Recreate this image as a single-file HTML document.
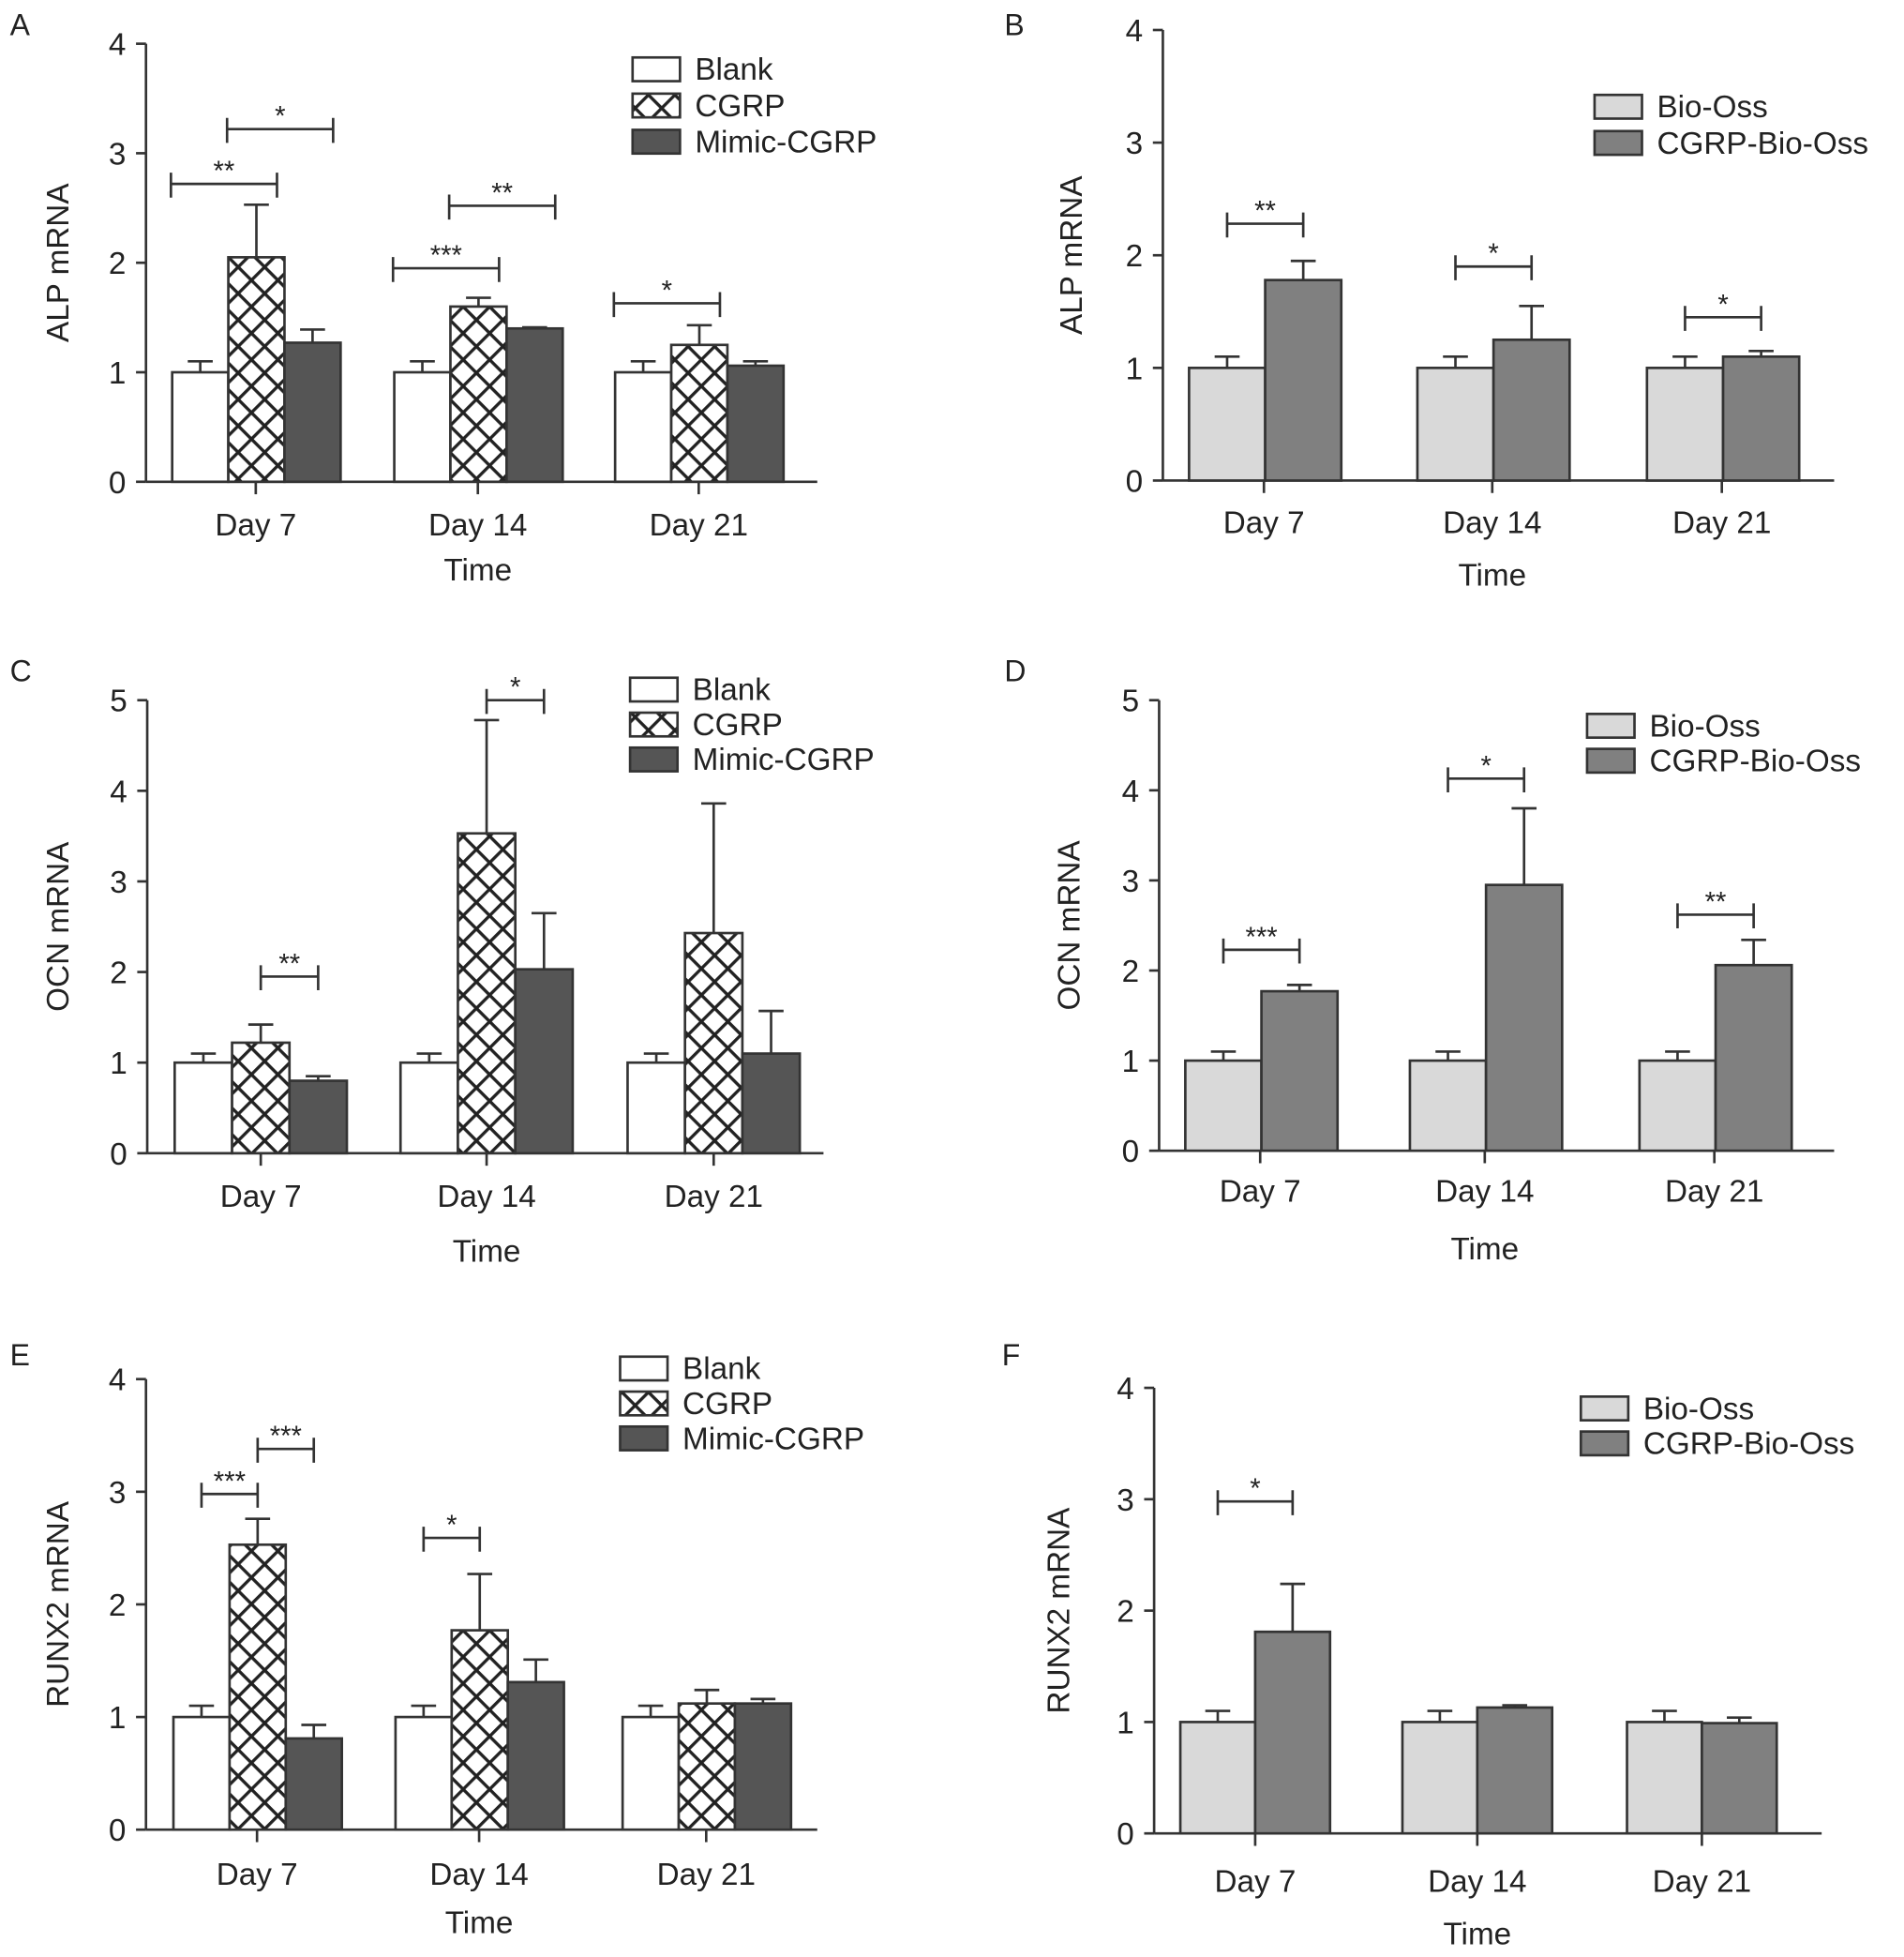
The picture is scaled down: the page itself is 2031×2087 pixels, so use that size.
<!DOCTYPE html>
<html><head><meta charset="utf-8"><style>
html,body{margin:0;padding:0;background:#fff;}
svg{display:block;}
text{font-family:"Liberation Sans",Arial,sans-serif;fill:#222;}
</style></head><body>
<svg id="fig" width="2031" height="2087" viewBox="0 0 1526 1568" xmlns="http://www.w3.org/2000/svg">
<defs>
<pattern id="hatch" patternUnits="userSpaceOnUse" width="15" height="15" patternTransform="rotate(45)">
<rect width="15" height="15" fill="#fff"/>
<line x1="0" y1="0" x2="0" y2="15" stroke="#222" stroke-width="5"/>
<line x1="0" y1="0" x2="15" y2="0" stroke="#222" stroke-width="5"/>
</pattern>
</defs>
</svg>
<script>
const categories = ["Day 7","Day 14","Day 21"];
// Panel A (ALP, 3 groups)
const aBlank=[1,1,1], aBlankErr=[0.1,0.1,0.1];
const aCgrp=[2.05,1.6,1.25], aCgrpErr=[0.48,0.08,0.18];
const aMimic=[1.27,1.4,1.06], aMimicErr=[0.12,0.01,0.04];
const aSig=[[0,0,1,2.72,"**"],[0,1,2,3.22,"*"],[1,0,1,1.95,"***"],[1,1,2,2.52,"**"],[2,0,1,1.63,"*"]];
// Panel B (ALP, 2 groups)
const bBio=[1,1,1], bBioErr=[0.1,0.1,0.1];
const bCgrp=[1.78,1.25,1.1], bCgrpErr=[0.17,0.3,0.05];
const bSig=[[0,0,1,2.28,"**"],[1,0,1,1.9,"*"],[2,0,1,1.45,"*"]];
// Panel C (OCN, 3 groups)
const cBlank=[1,1,1], cBlankErr=[0.1,0.1,0.1];
const cCgrp=[1.22,3.53,2.43], cCgrpErr=[0.2,1.25,1.43];
const cMimic=[0.8,2.03,1.1], cMimicErr=[0.05,0.62,0.47];
const cSig=[[0,1,2,1.95,"**"],[1,1,2,5.0,"*"]];
// Panel D (OCN, 2 groups)
const dBio=[1,1,1], dBioErr=[0.1,0.1,0.1];
const dCgrp=[1.77,2.95,2.06], dCgrpErr=[0.07,0.85,0.28];
const dSig=[[0,0,1,2.23,"***"],[1,0,1,4.13,"*"],[2,0,1,2.62,"**"]];
// Panel E (RUNX2, 3 groups)
const eBlank=[1,1,1], eBlankErr=[0.1,0.1,0.1];
const eCgrp=[2.53,1.77,1.12], eCgrpErr=[0.23,0.5,0.12];
const eMimic=[0.81,1.31,1.12], eMimicErr=[0.12,0.2,0.04];
const eSig=[[0,0,1,2.98,"***"],[0,1,2,3.38,"***"],[1,0,1,2.59,"*"]];
// Panel F (RUNX2, 2 groups)
const fBio=[1,1,1], fBioErr=[0.1,0.1,0.1];
const fCgrp=[1.81,1.13,0.99], fCgrpErr=[0.43,0.02,0.05];
const fSig=[[0,0,1,2.98,"*"]];
const ticks4=[0,1,2,3,4], ticks5=[0,1,2,3,4,5];
const legend3=["Blank","CGRP","Mimic-CGRP"], legend2=["Bio-Oss","CGRP-Bio-Oss"];

const svg=document.getElementById('fig');
const NS="http://www.w3.org/2000/svg";
function mk(tag,attrs,parent,txt){const e=document.createElementNS(NS,tag);for(const k in attrs)e.setAttribute(k,attrs[k]);if(txt!==undefined)e.textContent=txt;(parent||svg).appendChild(e);return e;}

function panel(p){
  const g=mk('g',{});
  
  
  const yS=v=>p.y0-(p.y0-p.yTop)*v/p.ymax;
  const letter=mk('text',{x:p.lx,y:p.ly,'font-size':24},g,p.id);
  
  
  const ya=mk('line',{x1:p.ax,y1:p.yTop,x2:p.ax,y2:p.y0,stroke:'#333','stroke-width':2},g);
  
  
  const xa=mk('line',{x1:p.ax,y1:p.y0,x2:p.axEnd,y2:p.y0,stroke:'#333','stroke-width':2},g);
  
  
  p.ticks.forEach(t=>{
    mk('line',{x1:p.ax-8,y1:yS(t),x2:p.ax,y2:yS(t),stroke:'#333','stroke-width':2},g);
    const tl=mk('text',{x:p.ax-16,y:yS(t)+9,'font-size':25,'text-anchor':'end'},g,String(t));
    
    
  });
  const yt=mk('text',{x:0,y:0,'font-size':25,'text-anchor':'middle',transform:`translate(${p.ytx},${(p.yTop+p.y0)/2}) rotate(-90)`},g,p.ytitle);
  
  
  categories.forEach((c,i)=>{
    const cx=p.centers[i];
    mk('line',{x1:cx,y1:p.y0,x2:cx,y2:p.y0+10,stroke:'#333','stroke-width':2},g);
    const cl=mk('text',{x:cx,y:p.catY,'font-size':25,'text-anchor':'middle'},g,c);
    
    
  });
  const xt=mk('text',{x:p.centers[1],y:p.timeY,'font-size':25,'text-anchor':'middle'},g,'Time');
  
  
  const barX=(i,s)=>p.centers[i]+p.offset+s*p.bw;
  p.series.forEach((s,si)=>{
    s.vals.forEach((v,i)=>{
      const x=barX(i,si), top=yS(v), cx=x+p.bw/2, et=yS(v+s.err[i]);
      mk('line',{x1:cx,y1:top,x2:cx,y2:et,stroke:'#333','stroke-width':2},g);
      mk('line',{x1:cx-10,y1:et,x2:cx+10,y2:et,stroke:'#333','stroke-width':2},g);
      const r=mk('rect',{x:x,y:top,width:p.bw,height:p.y0-top,fill:s.fill,stroke:'#333','stroke-width':2},g);
      
      
    });
  });
  p.sig.forEach(sg=>{
    const [gi,a,b,v,lab]=sg;
    let x1,x2;
    if(p.edge){x1=barX(gi,a)-1;x2=barX(gi,b)+p.bw-6;}
    else{x1=barX(gi,a)+p.bw/2;x2=barX(gi,b)+p.bw/2;}
    const y=yS(v);
    mk('path',{d:`M${x1},${y+11}V${y-9}M${x1},${y}H${x2}M${x2},${y+11}V${y-9}`,stroke:'#333','stroke-width':2,fill:'none'},g);
    const st=mk('text',{x:(x1+x2)/2,y:y-3,'font-size':22,'text-anchor':'middle'},g,lab);
    
    
  });
  p.series.forEach((s,si)=>{
    const ry=p.legY+si*p.legDy;
    mk('rect',{x:p.legX,y:ry-9,width:38,height:19,fill:s.fill,stroke:'#333','stroke-width':2},g);
    const lt=mk('text',{x:p.legX+50,y:ry+9,'font-size':25},g,s.label);
    
    
  });
}
function three(b,be,c,ce,m,me){return [
  {name:'blank',label:legend3[0],vals:b,err:be,fill:'#fff'},
  {name:'cgrp',label:legend3[1],vals:c,err:ce,fill:'url(#hatch)'},
  {name:'mimic',label:legend3[2],vals:m,err:me,fill:'#555'}];}
function two(b,be,c,ce){return [
  {name:'bio-oss',label:legend2[0],vals:b,err:be,fill:'#d9d9d9'},
  {name:'cgrp-bio-oss',label:legend2[1],vals:c,err:ce,fill:'#808080'}];}

panel({id:'A',lx:8,ly:28,ax:117,axEnd:655,y0:386,yTop:35,ymax:4,ticks:ticks4,ytx:55,ytitle:'ALP mRNA',
  centers:[205,383,560],offset:-67,bw:45,catY:429,timeY:465,series:three(aBlank,aBlankErr,aCgrp,aCgrpErr,aMimic,aMimicErr),
  sig:aSig,edge:true,legX:507,legY:55,legDy:29});
panel({id:'B',lx:805,ly:28,ax:932,axEnd:1470,y0:385,yTop:24,ymax:4,ticks:ticks4,ytx:867,ytitle:'ALP mRNA',
  centers:[1013,1196,1380],offset:-60,bw:61,catY:427,timeY:469,series:two(bBio,bBioErr,bCgrp,bCgrpErr),
  sig:bSig,edge:false,legX:1278,legY:85,legDy:29});
panel({id:'C',lx:8,ly:546,ax:118,axEnd:660,y0:924,yTop:561,ymax:5,ticks:ticks5,ytx:55,ytitle:'OCN mRNA',
  centers:[209,390,572],offset:-69,bw:46,catY:967,timeY:1011,series:three(cBlank,cBlankErr,cCgrp,cCgrpErr,cMimic,cMimicErr),
  sig:cSig,edge:false,legX:505,legY:552,legDy:28});
panel({id:'D',lx:805,ly:546,ax:929,axEnd:1470,y0:922,yTop:561,ymax:5,ticks:ticks5,ytx:865,ytitle:'OCN mRNA',
  centers:[1010,1190,1374],offset:-60,bw:61,catY:963,timeY:1009,series:two(dBio,dBioErr,dCgrp,dCgrpErr),
  sig:dSig,edge:false,legX:1272,legY:581,legDy:28});
panel({id:'E',lx:8,ly:1094,ax:117,axEnd:655,y0:1466,yTop:1105,ymax:4,ticks:ticks4,ytx:55,ytitle:'RUNX2 mRNA',
  centers:[206,384,566],offset:-67,bw:45,catY:1510,timeY:1549,series:three(eBlank,eBlankErr,eCgrp,eCgrpErr,eMimic,eMimicErr),
  sig:eSig,edge:false,legX:497,legY:1096,legDy:28});
panel({id:'F',lx:803,ly:1094,ax:925,axEnd:1460,y0:1469,yTop:1112,ymax:4,ticks:ticks4,ytx:857,ytitle:'RUNX2 mRNA',
  centers:[1006,1184,1364],offset:-60,bw:60,catY:1516,timeY:1558,series:two(fBio,fBioErr,fCgrp,fCgrpErr),
  sig:fSig,edge:false,legX:1267,legY:1128,legDy:28});
</script>
</body></html>
